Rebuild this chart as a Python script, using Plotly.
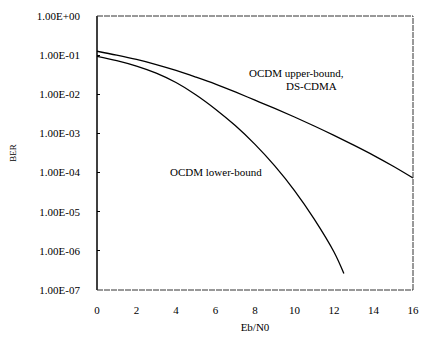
import plotly.graph_objects as go

# Data: log10(BER) vs Eb/N0
upper_x = [0, 1, 2, 3, 4, 5, 6, 7, 8, 9, 10, 11, 12, 13, 14, 15, 16]
upper_log = [-0.90, -1.00, -1.11, -1.24, -1.39, -1.56, -1.74, -1.94, -2.15,
             -2.36, -2.58, -2.81, -3.05, -3.30, -3.56, -3.84, -4.14]
lower_x = [0, 1, 2, 3, 4, 5, 6, 7, 8, 9, 10, 11, 12, 12.5]
lower_log = [-1.03, -1.14, -1.28, -1.46, -1.70, -2.01, -2.38, -2.80, -3.28,
             -3.83, -4.46, -5.19, -6.03, -6.58]
y_tickvals = [1, 1e-1, 1e-2, 1e-3, 1e-4, 1e-5, 1e-6, 1e-7]
y_ticktext = ["1.00E+00", "1.00E-01", "1.00E-02", "1.00E-03",
              "1.00E-04", "1.00E-05", "1.00E-06", "1.00E-07"]
x_tickvals = [0, 2, 4, 6, 8, 10, 12, 14, 16]

upper_y = [10 ** v for v in upper_log]
lower_y = [10 ** v for v in lower_log]

FONT = "Liberation Serif"

fig = go.Figure()
fig.add_trace(go.Scatter(x=upper_x, y=upper_y, mode="lines", line=dict(color="black", width=1.3, shape="spline"),
                         showlegend=False, hoverinfo="skip"))
fig.add_trace(go.Scatter(x=lower_x, y=lower_y, mode="lines", line=dict(color="black", width=1.3, shape="spline"),
                         showlegend=False, hoverinfo="skip"))

fig.add_annotation(x=10.1, y=-1.45, xref="x", yref="y", text="OCDM upper-bound,", showarrow=False,
                   font=dict(family=FONT, size=11, color="black"))
fig.add_annotation(x=10.85, y=-1.78, xref="x", yref="y", text="DS-CDMA", showarrow=False,
                   font=dict(family=FONT, size=11, color="black"))
fig.add_annotation(x=6.0, y=-3.98, xref="x", yref="y", text="OCDM lower-bound", showarrow=False,
                   font=dict(family=FONT, size=11, color="black"))

# frame: solid left axis, dashed others
fig.add_shape(type="line", xref="paper", yref="paper", x0=0, x1=0, y0=0, y1=1,
              line=dict(color="black", width=1.5))
for (x0, y0, x1, y1) in [(0, 1, 1, 1), (1, 0, 1, 1), (0, 0, 1, 0)]:
    fig.add_shape(type="line", xref="paper", yref="paper", x0=x0, x1=x1, y0=y0, y1=y1,
                  line=dict(color="#333", width=1, dash="6px,1px"))

fig.update_xaxes(range=[0, 16], tickvals=x_tickvals, showgrid=False, zeroline=False, showline=False,
                 ticks="", ticklabelstandoff=12,
                 tickfont=dict(family=FONT, size=11, color="black"),
                 title=dict(text="Eb/N0", font=dict(family=FONT, size=11, color="black"), standoff=8))
fig.update_yaxes(type="log", range=[-7, 0], tickvals=y_tickvals, ticktext=y_ticktext,
                 showgrid=False, zeroline=False, showline=False, ticks="inside", ticklen=3,
                 tickcolor="black", ticklabelstandoff=16,
                 tickfont=dict(family=FONT, size=11, color="black"),
                 title=dict(text="BER", font=dict(family=FONT, size=9, color="black"), standoff=18))

fig.update_layout(width=429, height=342, margin=dict(l=97, r=10, t=12, b=49),
                  plot_bgcolor="white", paper_bgcolor="white")
fig.write_html("out.html")
